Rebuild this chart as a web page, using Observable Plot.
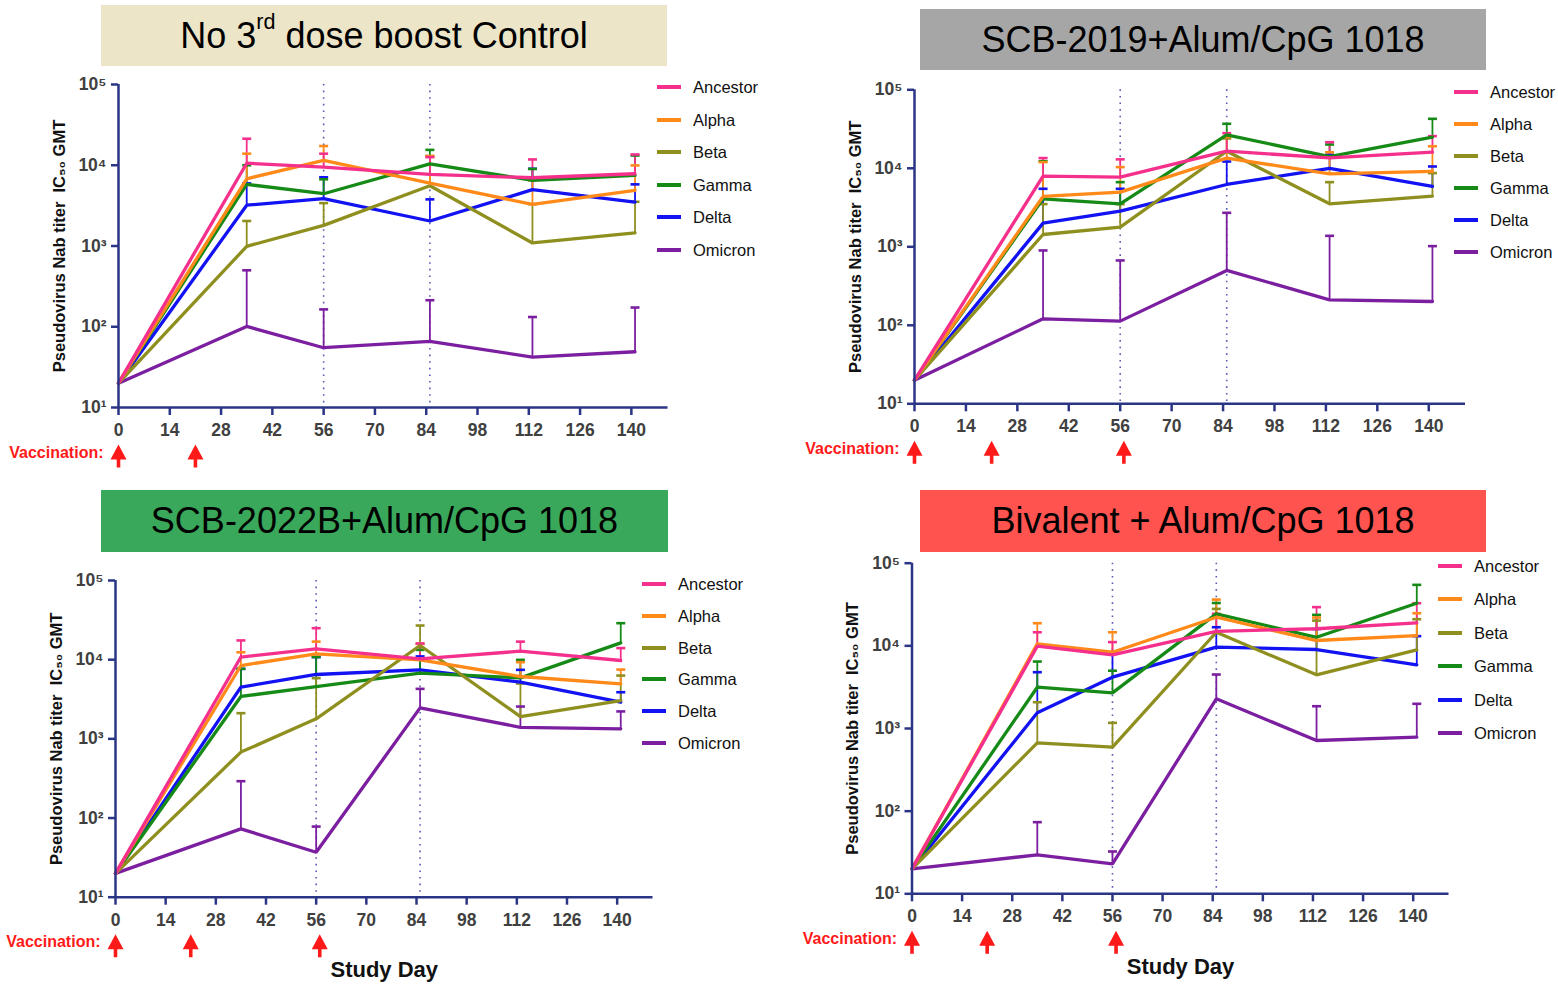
<!DOCTYPE html>
<html>
<head>
<meta charset="utf-8">
<script src="https://cdn.jsdelivr.net/npm/d3@7"></script>
<script src="https://cdn.jsdelivr.net/npm/@observablehq/plot@0.6"></script>
<style>
  html, body { margin: 0; padding: 0; background: #fff; }
  #root { position: relative; width: 1558px; height: 987px; overflow: hidden; font-family: "Liberation Sans", Arial, sans-serif; }
  .title { position: absolute; display: flex; align-items: center; justify-content: center; font-size: 36px; color: #000; font-family: "Liberation Sans", Arial, sans-serif; }
  .title span.tx { white-space: pre; }
  .title sup { font-size: 60%; position: relative; top: -0.15em; vertical-align: top; line-height: 1; }
  .plotbox { position: absolute; }
  .legend { position: absolute; }
  .legend .row { position: absolute; left: 0; white-space: nowrap; font-size: 16.5px; color: #111; height: 20px; line-height: 20px; }
  .legend .sw { position: absolute; left: 0; top: 8px; width: 24px; height: 4px; }
  .legend .lb { position: absolute; left: 36px; top: 0; }
</style>
</head>
<body>
<div id="root"></div>
<script>
// ---------------- data ----------------
const days = [0, 35, 56, 85, 113, 141];
const variants = ["Ancestor", "Alpha", "Beta", "Gamma", "Delta", "Omicron"];
const variantColors = ["#f5308c", "#ff8a1a", "#8f8f1f", "#168a16", "#1212f2", "#7b1fa0"];
const xTicks = [0, 14, 28, 42, 56, 70, 84, 98, 112, 126, 140];
const yTicks = [10, 100, 1000, 10000, 100000];
const boostLines = [56, 85];
const vaccinationDaysTwo = [0, 21];
const vaccinationDaysThree = [0, 21, 57];
const panelTitles = ["No 3rd dose boost Control", "SCB-2019+Alum/CpG 1018", "SCB-2022B+Alum/CpG 1018", "Bivalent + Alum/CpG 1018"];
const yLabel = "Pseudovirus Nab titer  IC\u2085\u2080 GMT";
const xLabel = "Study Day";

// GMT values, rows in variant order
const controlGMT = [
  [20, 10600, 9500, 7700, 7000, 7850],
  [20, 6800, 11500, 6000, 3270, 4900],
  [20, 990, 1800, 5570, 1090, 1450],
  [20, 5800, 4440, 10400, 6500, 7500],
  [20, 3200, 3850, 2040, 4980, 3500],
  [20, 101, 55, 66, 42, 49]
];
const controlTop = [
  [null, 21300, 13900, 12600, 11800, 13600],
  [null, 13900, 17300, 13000, 6500, 9950],
  [null, 2040, 3400, 13000, 3300, 3530],
  [null, 10000, 6700, 15500, 9000, 13200],
  [null, 5960, 7100, 3780, 9050, 5800],
  [null, 500, 164, 213, 132, 173]
];
const scb2019GMT = [
  [20, 7950, 7700, 16500, 13600, 16100],
  [20, 4380, 4970, 13500, 8500, 9120],
  [20, 1435, 1780, 16500, 3530, 4420],
  [20, 4090, 3530, 26700, 14100, 24900],
  [20, 2000, 2840, 6220, 10000, 5870],
  [20, 121, 113, 500, 211, 201]
];
const scb2019Top = [
  [null, 13500, 13000, 28000, 21500, 25700],
  [null, 12000, 10350, 25000, 16000, 19100],
  [null, 3500, 3500, 24000, 6660, 8680],
  [null, 12300, 6660, 36900, 20100, 42700],
  [null, 5480, 5480, 12200, 14900, 10550],
  [null, 898, 670, 2710, 1380, 1020]
];
const scb2022bGMT = [
  [20, 10800, 13700, 10250, 12800, 9760],
  [20, 8440, 11850, 9950, 6130, 4950],
  [20, 680, 1790, 15100, 1910, 3050],
  [20, 3430, 4580, 6750, 5900, 16300],
  [20, 4500, 6500, 7440, 5200, 2900],
  [20, 73, 37, 2460, 1400, 1340]
];
const scb2022bTop = [
  [null, 17500, 25000, 16000, 16900, 14000],
  [null, 12400, 16900, 15850, 9300, 7500],
  [null, 2110, 5840, 27000, 5000, 6300],
  [null, 7660, 10800, 13300, 9950, 28900],
  [null, 7660, 10800, 11000, 7440, 3880],
  [null, 292, 78, 4280, 2560, 2220]
];
const bivalentGMT = [
  [20, 9900, 7780, 15000, 16100, 19000],
  [20, 10570, 8380, 22200, 11600, 13300],
  [20, 671, 594, 14600, 4460, 8950],
  [20, 3160, 2700, 24400, 12700, 32800],
  [20, 1550, 4180, 9640, 9030, 5890],
  [20, 29.6, 23, 2290, 716, 785]
];
const bivalentTop = [
  [null, 14600, 11100, 24400, 29400, 32800],
  [null, 18800, 14600, 36300, 22000, 24800],
  [null, 2080, 1170, 28000, 20200, 21000],
  [null, 6460, 5000, 33000, 23700, 54700],
  [null, 4800, 8000, 16800, 16000, 13100],
  [null, 73.6, 32.5, 4500, 1860, 1990]
];

// ---------------- layout (no data) ----------------
const NAVY = "#2b3585";
const FONT = "'Liberation Sans', Arial, sans-serif";
const panels = [
  { title: panelTitles[0], gmt: controlGMT, top: controlTop, vacc: vaccinationDaysTwo, studyDay: false,
    bg: "#ece5c8", tbox: [101, 5, 566, 61],
    svg: { left: 0, top: 70, width: 690, height: 400 }, frame: { left: 118, right: 667.5, top: 84, bottom: 407 },
    legend: { x: 657, y: 77, dy: 32.6 } },
  { title: panelTitles[1], gmt: scb2019GMT, top: scb2019Top, vacc: vaccinationDaysThree, studyDay: false,
    bg: "#a6a6a6", tbox: [920, 9, 566, 61],
    svg: { left: 780, top: 75, width: 705, height: 395 }, frame: { left: 914, right: 1465, top: 89.3, bottom: 403.3 },
    legend: { x: 1454, y: 82, dy: 31.9 } },
  { title: panelTitles[2], gmt: scb2022bGMT, top: scb2022bTop, vacc: vaccinationDaysThree, studyDay: true,
    bg: "#39a85b", tbox: [101, 490, 567, 62],
    svg: { left: 0, top: 565, width: 672, height: 422 }, frame: { left: 115, right: 652.5, top: 580, bottom: 896.7 },
    legend: { x: 642, y: 574, dy: 31.8 } },
  { title: panelTitles[3], gmt: bivalentGMT, top: bivalentTop, vacc: vaccinationDaysThree, studyDay: true,
    bg: "#ff5350", tbox: [920, 490, 566, 62],
    svg: { left: 780, top: 548, width: 688, height: 439 }, frame: { left: 911.5, right: 1448.5, top: 562.7, bottom: 893.3 },
    legend: { x: 1438, y: 556, dy: 33.4 } }
];

const supDigits = {"0":"\u2070","1":"\u00b9","2":"\u00b2","3":"\u00b3","4":"\u2074","5":"\u2075"};
const fmtPow = d => "10" + String(Math.round(Math.log10(d))).split("").map(c => supDigits[c]).join("");

const arrowSymbol = {
  draw(ctx) {
    ctx.moveTo(0, -11);
    ctx.lineTo(8, 4);
    ctx.lineTo(1.8, 4);
    ctx.lineTo(1.8, 12);
    ctx.lineTo(-1.8, 12);
    ctx.lineTo(-1.8, 4);
    ctx.lineTo(-8, 4);
    ctx.closePath();
  }
};
const capSymbol = {
  draw(ctx) {
    ctx.moveTo(-4.5, 0);
    ctx.lineTo(4.5, 0);
  }
};

const root = document.getElementById("root");

for (const p of panels) {
  // title box
  const t = document.createElement("div");
  t.className = "title";
  t.style.left = p.tbox[0] + "px";
  t.style.top = p.tbox[1] + "px";
  t.style.width = p.tbox[2] + "px";
  t.style.height = p.tbox[3] + "px";
  t.style.background = p.bg;
  const tx = document.createElement("span");
  tx.className = "tx";
  tx.innerHTML = p.title.replace("3rd", "3<sup>rd</sup>");
  t.appendChild(tx);
  root.appendChild(t);

  // data tables built from arrays
  const lineData = [];
  const errData = [];
  for (let vi = variants.length - 1; vi >= 0; vi--) {
    days.forEach((d, di) => {
      lineData.push({ variant: variants[vi], day: d, value: p.gmt[vi][di] });
      if (p.top[vi][di] != null) errData.push({ variant: variants[vi], day: d, value: p.gmt[vi][di], top: p.top[vi][di] });
    });
  }

  const s = p.svg, f = p.frame;
  const marks = [
    Plot.ruleX(boostLines, { stroke: "#5a5ab4", strokeWidth: 1.6, strokeDasharray: "1.6,5" }),
    Plot.ruleX(errData, { x: "day", y1: "value", y2: "top", stroke: "variant", strokeWidth: 1.8 }),
    Plot.dot(errData, { x: "day", y: "top", stroke: "variant", fill: "none", symbol: capSymbol, strokeWidth: 2.6, r: 5 }),
    Plot.line(lineData, { x: "day", y: "value", z: "variant", stroke: "variant", strokeWidth: 3.3, strokeLinejoin: "miter" }),
    Plot.ruleX([0], { stroke: NAVY, strokeWidth: 2.5 }),
    Plot.ruleY([10], { stroke: NAVY, strokeWidth: 2.5 }),
    Plot.axisX({ ticks: xTicks, tickSize: 8, tickPadding: 8, stroke: NAVY, strokeWidth: 2.5, fill: "#404040",
      fontSize: 17.5, fontWeight: "bold", fontFamily: FONT, label: null, tickFormat: d => String(d) }),
    Plot.axisY({ ticks: yTicks, tickSize: 7, tickPadding: 5, stroke: NAVY, strokeWidth: 2.5, fill: "#404040",
      fontSize: 17.5, fontWeight: "bold", fontFamily: FONT, label: null, tickFormat: fmtPow }),
    Plot.text([yLabel], { frameAnchor: "left", textAnchor: "middle", rotate: -90, dx: -59, fontWeight: "bold", fontSize: 16.5, fontFamily: FONT, fill: "#111" }),
    Plot.text(["Vaccination:"], { frameAnchor: "bottom-left", textAnchor: "end", dx: -15, dy: 50, fill: "#ff1a1a", fontWeight: "bold", fontSize: 16, fontFamily: FONT }),
    Plot.dot(p.vacc, { x: d => d, frameAnchor: "bottom", dy: 48, symbol: arrowSymbol, fill: "#ff1a1a", stroke: "none", r: 6 })
  ];
  if (p.studyDay) {
    marks.push(Plot.text([xLabel], { frameAnchor: "bottom", textAnchor: "middle", dy: 80, fontWeight: "bold", fontSize: 22, fontFamily: FONT, fill: "#111" }));
  }

  const chart = Plot.plot({
    width: s.width,
    height: s.height,
    marginLeft: f.left - s.left,
    marginRight: s.left + s.width - f.right,
    marginTop: f.top - s.top,
    marginBottom: s.top + s.height - f.bottom,
    x: { domain: [0, 150], axis: null },
    y: { type: "log", domain: [10, 100000], axis: null },
    color: { domain: variants, range: variantColors },
    style: { background: "transparent", overflow: "visible", fontFamily: FONT },
    marks
  });
  const box = document.createElement("div");
  box.className = "plotbox";
  box.style.left = s.left + "px";
  box.style.top = s.top + "px";
  box.appendChild(chart);
  root.appendChild(box);

  // legend
  const lg = document.createElement("div");
  lg.className = "legend";
  lg.style.left = p.legend.x + "px";
  lg.style.top = p.legend.y + "px";
  variants.forEach((v, i) => {
    const row = document.createElement("div");
    row.className = "row";
    row.style.top = (i * p.legend.dy) + "px";
    row.innerHTML = `<span class="sw" style="background:${variantColors[i]}"></span><span class="lb">${v}</span>`;
    lg.appendChild(row);
  });
  root.appendChild(lg);
}
</script>
</body>
</html>
